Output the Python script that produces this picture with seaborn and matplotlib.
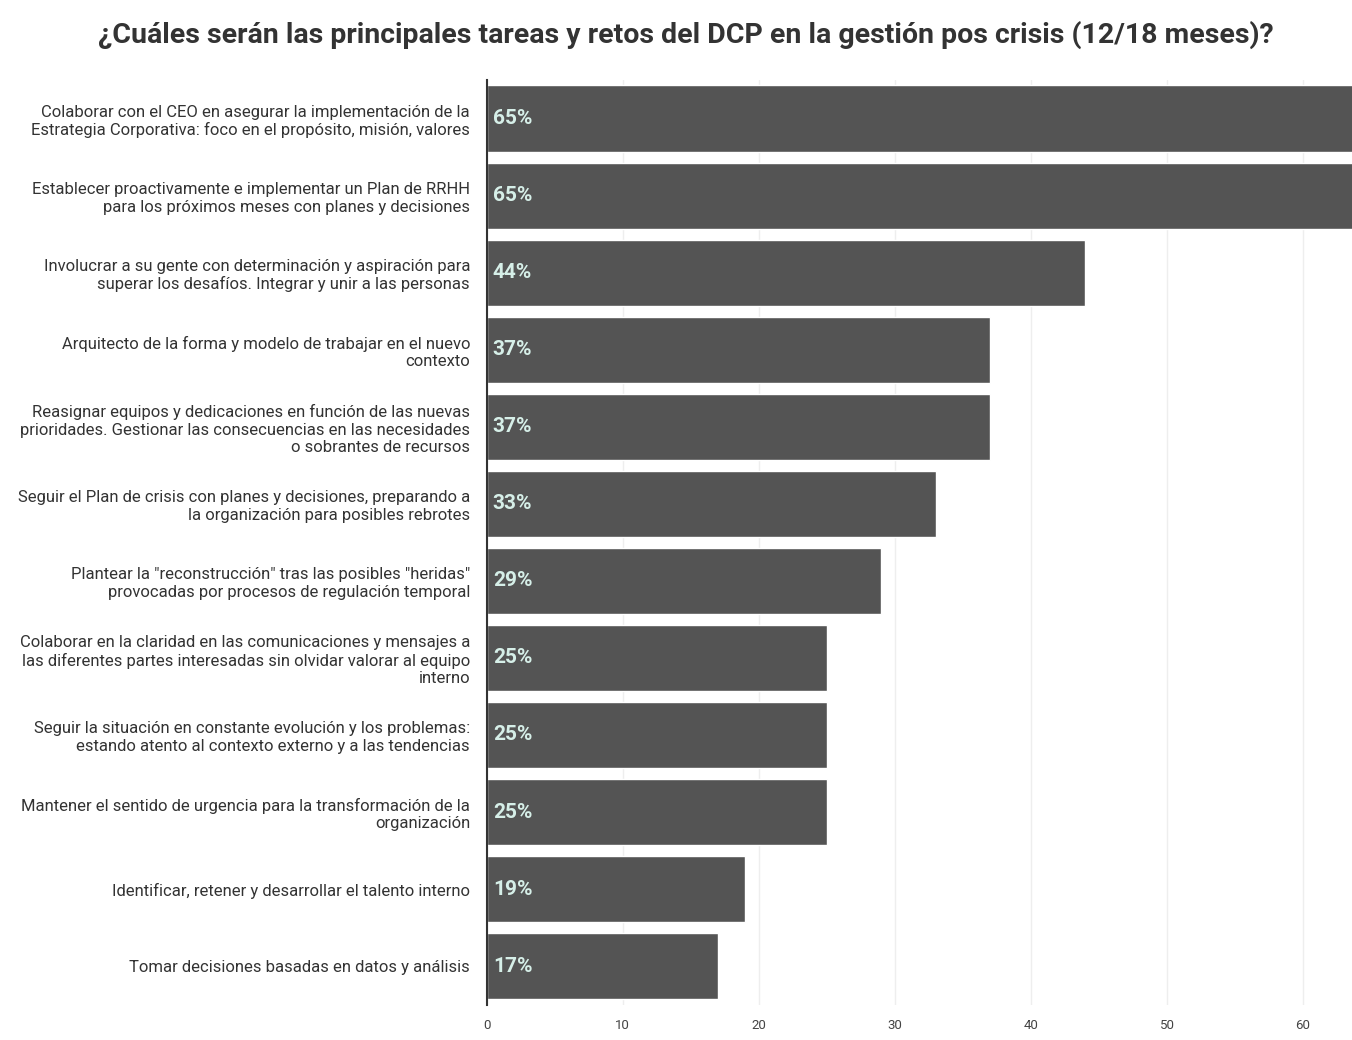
import pandas as pd
import seaborn as sns
import matplotlib.pyplot as plt

tasks = [
    "Colaborar con el CEO en asegurar la implementación de la\nEstrategia Corporativa: foco en el propósito, misión, valores",
    "Establecer proactivamente e implementar un Plan de RRHH\npara los próximos meses con planes y decisiones",
    "Involucrar a su gente con determinación y aspiración para\nsuperar los desafíos. Integrar y unir a las personas",
    "Arquitecto de la forma y modelo de trabajar en el nuevo\ncontexto",
    "Reasignar equipos y dedicaciones en función de las nuevas\nprioridades. Gestionar las consecuencias en las necesidades\no sobrantes de recursos",
    "Seguir el Plan de crisis con planes y decisiones, preparando a\nla organización para posibles rebrotes",
    "Plantear la \"reconstrucción\" tras las posibles \"heridas\"\nprovocadas por procesos de regulación temporal",
    "Colaborar en la claridad en las comunicaciones y mensajes a\nlas diferentes partes interesadas sin olvidar valorar al equipo\ninterno",
    "Seguir la situación en constante evolución y los problemas:\nestando atento al contexto externo y a las tendencias",
    "Mantener el sentido de urgencia para la transformación de la\norganización",
    "Identificar, retener y desarrollar el talento interno",
    "Tomar decisiones basadas en datos y análisis",
]
pct = [65, 65, 44, 37, 37, 33, 29, 25, 25, 25, 19, 17]
x_ticks = [0, 10, 20, 30, 40, 50, 60]

df = pd.DataFrame({"task": tasks, "pct": pct})

sns.set_style("white")
plt.rcParams['font.family'] = ['Roboto', 'DejaVu Sans']

fig = plt.figure(figsize=(13.52, 10.40), dpi=100)
ax = fig.add_axes([0.360, 0.034, 0.640, 0.889])

sns.barplot(data=df, x="pct", y="task", orient="h", color="#545454",
            saturation=1, width=0.86, ax=ax)

for i, v in enumerate(df["pct"]):
    ax.text(0.45, i, f"{v}%", va="center", ha="left", fontsize=15,
            fontweight="bold", color="#d6efe8")

ax.set_xlim(0, 63.6)
ax.set_xticks(x_ticks)
ax.set_xticklabels([str(t) for t in x_ticks], fontsize=9.5, color="#444444")
ax.xaxis.grid(True, color="#eeeeee", linewidth=1)
ax.set_axisbelow(True)
ax.tick_params(axis="y", length=0, pad=12, labelsize=12, labelcolor="#333333")
ax.tick_params(axis="x", length=0, pad=10)
ax.set_xlabel("")
ax.set_ylabel("")
for s in ["top", "right", "bottom"]:
    ax.spines[s].set_visible(False)
ax.spines["left"].set_color("#333333")
ax.spines["left"].set_linewidth(1.5)

fig.text(0.507, 0.966,
         "¿Cuáles serán las principales tareas y retos del DCP en la gestión pos crisis (12/18 meses)?",
         ha="center", va="center", fontsize=20.5, fontweight="bold", color="#333333")

fig.savefig("out.png", dpi=100)
